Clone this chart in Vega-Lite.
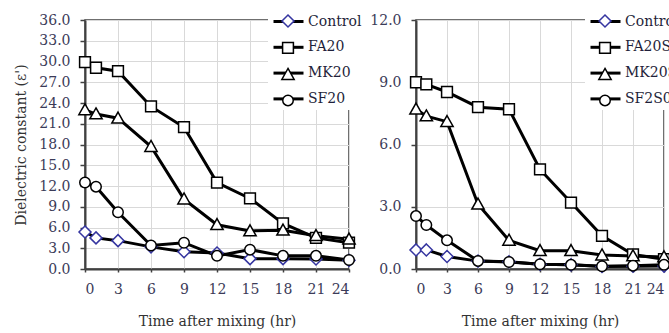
{
  "$schema": "https://vega.github.io/schema/vega-lite/v6.json",
  "background": "white",
  "padding": {"left": 14, "top": 0, "right": 0, "bottom": 0},
  "bounds": "flush",
  "spacing": 67,
  "config": {
    "font": "DejaVu Serif",
    "view": {"stroke": "#404040", "strokeWidth": 1.5},
    "axis": {
      "labelFont": "DejaVu Serif", "labelFontSize": 14, "labelColor": "#3b3b58",
      "titleFont": "DejaVu Serif", "titleFontSize": 14, "titleFontWeight": "normal", "titleColor": "#333333",
      "gridColor": "#d9d9d9", "gridWidth": 1,
      "domainColor": "#404040", "domainWidth": 2,
      "tickColor": "#404040", "tickWidth": 1.5
    },
    "axisY": {"tickSize": 5, "labelPadding": 10, "titlePadding": 10},
    "axisX": {"tickSize": 3, "labelPadding": 10, "titlePadding": 18}
  },
  "datasets": {
    "left": [
      {"t": 0, "v": 5.35, "s": "Control"}, {"t": 1, "v": 4.5, "s": "Control"}, {"t": 3, "v": 4.1, "s": "Control"}, {"t": 6, "v": 3.2, "s": "Control"}, {"t": 9, "v": 2.5, "s": "Control"}, {"t": 12, "v": 2.3, "s": "Control"}, {"t": 15, "v": 1.5, "s": "Control"}, {"t": 18, "v": 1.5, "s": "Control"}, {"t": 21, "v": 1.45, "s": "Control"}, {"t": 24, "v": 1.25, "s": "Control"},
      {"t": 0, "v": 29.9, "s": "FA20"}, {"t": 1, "v": 29.1, "s": "FA20"}, {"t": 3, "v": 28.6, "s": "FA20"}, {"t": 6, "v": 23.5, "s": "FA20"}, {"t": 9, "v": 20.5, "s": "FA20"}, {"t": 12, "v": 12.5, "s": "FA20"}, {"t": 15, "v": 10.2, "s": "FA20"}, {"t": 18, "v": 6.6, "s": "FA20"}, {"t": 21, "v": 4.5, "s": "FA20"}, {"t": 24, "v": 3.8, "s": "FA20"},
      {"t": 0, "v": 23.0, "s": "MK20"}, {"t": 1, "v": 22.4, "s": "MK20"}, {"t": 3, "v": 21.8, "s": "MK20"}, {"t": 6, "v": 17.7, "s": "MK20"}, {"t": 9, "v": 10.1, "s": "MK20"}, {"t": 12, "v": 6.4, "s": "MK20"}, {"t": 15, "v": 5.5, "s": "MK20"}, {"t": 18, "v": 5.6, "s": "MK20"}, {"t": 21, "v": 4.8, "s": "MK20"}, {"t": 24, "v": 4.3, "s": "MK20"},
      {"t": 0, "v": 12.5, "s": "SF20"}, {"t": 1, "v": 11.9, "s": "SF20"}, {"t": 3, "v": 8.2, "s": "SF20"}, {"t": 6, "v": 3.4, "s": "SF20"}, {"t": 9, "v": 3.8, "s": "SF20"}, {"t": 12, "v": 1.9, "s": "SF20"}, {"t": 15, "v": 2.8, "s": "SF20"}, {"t": 18, "v": 1.9, "s": "SF20"}, {"t": 21, "v": 1.9, "s": "SF20"}, {"t": 24, "v": 1.3, "s": "SF20"}
    ],
    "right": [
      {"t": 0, "v": 0.92, "s": "Control"}, {"t": 1, "v": 0.92, "s": "Control"}, {"t": 3, "v": 0.6, "s": "Control"}, {"t": 6, "v": 0.38, "s": "Control"}, {"t": 9, "v": 0.35, "s": "Control"}, {"t": 12, "v": 0.23, "s": "Control"}, {"t": 15, "v": 0.2, "s": "Control"}, {"t": 18, "v": 0.12, "s": "Control"}, {"t": 21, "v": 0.13, "s": "Control"}, {"t": 24, "v": 0.14, "s": "Control"},
      {"t": 0, "v": 9.0, "s": "FA20S"}, {"t": 1, "v": 8.9, "s": "FA20S"}, {"t": 3, "v": 8.53, "s": "FA20S"}, {"t": 6, "v": 7.8, "s": "FA20S"}, {"t": 9, "v": 7.7, "s": "FA20S"}, {"t": 12, "v": 4.8, "s": "FA20S"}, {"t": 15, "v": 3.2, "s": "FA20S"}, {"t": 18, "v": 1.6, "s": "FA20S"}, {"t": 21, "v": 0.7, "s": "FA20S"}, {"t": 24, "v": 0.47, "s": "FA20S"},
      {"t": 0, "v": 7.7, "s": "MK20S"}, {"t": 1, "v": 7.37, "s": "MK20S"}, {"t": 3, "v": 7.1, "s": "MK20S"}, {"t": 6, "v": 3.12, "s": "MK20S"}, {"t": 9, "v": 1.38, "s": "MK20S"}, {"t": 12, "v": 0.88, "s": "MK20S"}, {"t": 15, "v": 0.88, "s": "MK20S"}, {"t": 18, "v": 0.67, "s": "MK20S"}, {"t": 21, "v": 0.63, "s": "MK20S"}, {"t": 24, "v": 0.58, "s": "MK20S"},
      {"t": 0, "v": 2.55, "s": "SF2S0"}, {"t": 1, "v": 2.12, "s": "SF2S0"}, {"t": 3, "v": 1.38, "s": "SF2S0"}, {"t": 6, "v": 0.39, "s": "SF2S0"}, {"t": 9, "v": 0.34, "s": "SF2S0"}, {"t": 12, "v": 0.23, "s": "SF2S0"}, {"t": 15, "v": 0.2, "s": "SF2S0"}, {"t": 18, "v": 0.13, "s": "SF2S0"}, {"t": 21, "v": 0.16, "s": "SF2S0"}, {"t": 24, "v": 0.2, "s": "SF2S0"}
    ]
  },
  "resolve": {
    "scale": {"color": "independent", "shape": "independent", "stroke": "independent"},
    "legend": {"color": "independent", "shape": "independent", "stroke": "independent"}
  },
  "hconcat": [
    {
      "width": 264, "height": 249,
      "data": {"name": "left"},
      "encoding": {
        "x": {"field": "t", "type": "quantitative", "scale": {"domain": [0, 24], "nice": false},
              "axis": {"values": [0, 3, 6, 9, 12, 15, 18, 21, 24], "title": "Time after mixing (hr)"}},
        "y": {"field": "v", "type": "quantitative", "scale": {"domain": [0, 36], "nice": false},
              "axis": {"values": [0, 3, 6, 9, 12, 15, 18, 21, 24, 27, 30, 33, 36], "format": ".1f", "title": "Dielectric constant (ε')"}}
      },
      "layer": [
        {
          "mark": {"type": "line", "strokeWidth": 3},
          "encoding": {
            "color": {"field": "s", "type": "nominal",
              "scale": {"domain": ["Control", "FA20", "MK20", "SF20"], "range": ["black", "black", "black", "black"]},
              "legend": {"orient": "none", "legendX": 183, "legendY": -19, "title": null, "padding": 4,
                "fillColor": "white", "symbolType": "stroke", "symbolSize": 900, "symbolStrokeWidth": 3,
                "symbolStrokeColor": "black", "rowPadding": 1.8, "labelOffset": 3,
                "labelFont": "DejaVu Serif", "labelFontSize": 14, "labelColor": "#1f1f3a"}}
          }
        },
        {
          "mark": {"type": "point", "filled": true, "fill": "white", "size": 900, "strokeWidth": 1.5, "opacity": 1},
          "encoding": {
            "shape": {"field": "s", "type": "nominal",
              "scale": {"range": ["M0,-0.4L0.4,0L0,0.4L-0.4,0Z", "M-0.36,-0.36H0.36V0.36H-0.36Z", "M0,-0.41L0.41,0.32L-0.41,0.32Z", "M0.35,0A0.35,0.35 0 1,1 -0.35,0A0.35,0.35 0 1,1 0.35,0Z"]},
              "legend": {"orient": "none", "legendX": 183, "legendY": -19, "title": null, "padding": 4,
                "symbolSize": 900, "symbolStrokeWidth": 1.5, "symbolFillColor": "white", "rowPadding": 1.8, "labelOffset": 4,
                "labelFont": "DejaVu Serif", "labelFontSize": 14, "labelOpacity": 0, "labelExpr": "' '"}},
            "stroke": {"field": "s", "type": "nominal",
              "scale": {"range": ["#3535a0", "black", "black", "black"]},
              "legend": {"orient": "none", "legendX": 183, "legendY": -19, "title": null, "padding": 4,
                "symbolSize": 900, "symbolStrokeWidth": 1.5, "symbolFillColor": "white", "rowPadding": 1.8, "labelOffset": 4,
                "labelFont": "DejaVu Serif", "labelFontSize": 14, "labelOpacity": 0, "labelExpr": "' '"}}
          }
        }
      ]
    },
    {
      "width": 248, "height": 249,
      "data": {"name": "right"},
      "encoding": {
        "x": {"field": "t", "type": "quantitative", "scale": {"domain": [0, 24], "nice": false},
              "axis": {"values": [0, 3, 6, 9, 12, 15, 18, 21, 24], "title": "Time after mixing (hr)"}},
        "y": {"field": "v", "type": "quantitative", "scale": {"domain": [0, 12], "nice": false},
              "axis": {"values": [0, 3, 6, 9, 12], "format": ".1f", "title": null}}
      },
      "layer": [
        {
          "mark": {"type": "line", "strokeWidth": 3},
          "encoding": {
            "color": {"field": "s", "type": "nominal",
              "scale": {"domain": ["Control", "FA20S", "MK20S", "SF2S0"], "range": ["black", "black", "black", "black"]},
              "legend": {"orient": "none", "legendX": 169, "legendY": -19, "title": null, "padding": 4,
                "fillColor": "white", "symbolType": "stroke", "symbolSize": 900, "symbolStrokeWidth": 3,
                "symbolStrokeColor": "black", "rowPadding": 1.8, "labelOffset": 3,
                "labelFont": "DejaVu Serif", "labelFontSize": 14, "labelColor": "#1f1f3a"}}
          }
        },
        {
          "mark": {"type": "point", "filled": true, "fill": "white", "size": 900, "strokeWidth": 1.5, "opacity": 1},
          "encoding": {
            "shape": {"field": "s", "type": "nominal",
              "scale": {"range": ["M0,-0.4L0.4,0L0,0.4L-0.4,0Z", "M-0.36,-0.36H0.36V0.36H-0.36Z", "M0,-0.41L0.41,0.32L-0.41,0.32Z", "M0.35,0A0.35,0.35 0 1,1 -0.35,0A0.35,0.35 0 1,1 0.35,0Z"]},
              "legend": {"orient": "none", "legendX": 169, "legendY": -19, "title": null, "padding": 4,
                "symbolSize": 900, "symbolStrokeWidth": 1.5, "symbolFillColor": "white", "rowPadding": 1.8, "labelOffset": 4,
                "labelFont": "DejaVu Serif", "labelFontSize": 14, "labelOpacity": 0, "labelExpr": "' '"}},
            "stroke": {"field": "s", "type": "nominal",
              "scale": {"range": ["#3535a0", "black", "black", "black"]},
              "legend": {"orient": "none", "legendX": 169, "legendY": -19, "title": null, "padding": 4,
                "symbolSize": 900, "symbolStrokeWidth": 1.5, "symbolFillColor": "white", "rowPadding": 1.8, "labelOffset": 4,
                "labelFont": "DejaVu Serif", "labelFontSize": 14, "labelOpacity": 0, "labelExpr": "' '"}}
          }
        }
      ]
    }
  ]
}
